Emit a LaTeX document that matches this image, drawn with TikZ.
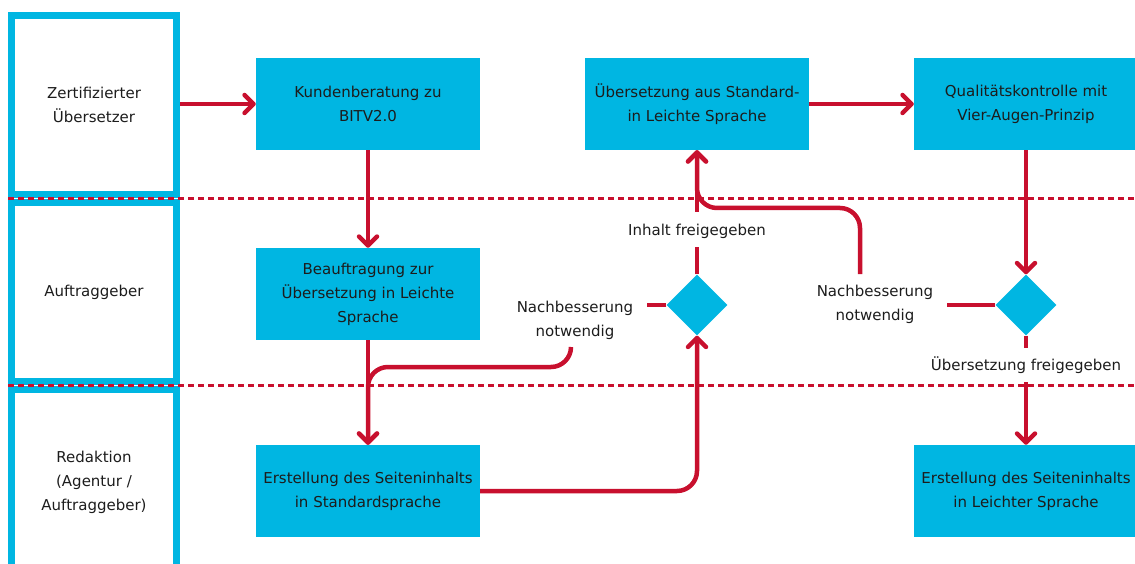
\documentclass[tikz,border=0pt]{standalone}
\usepackage{fontspec}
\setmainfont{DejaVu Sans}
\usetikzlibrary{arrows.meta,shapes.geometric}
\definecolor{boxcyan}{RGB}{0,182,226}
\definecolor{flowred}{RGB}{200,16,46}
\definecolor{ink}{RGB}{28,28,28}
\begin{document}
\begin{tikzpicture}[x=1pt,y=-1pt,
  every node/.style={font=\fontsize{15}{24}\selectfont, text=ink},
  proc/.style={fill=boxcyan, minimum width=224pt, minimum height=92pt, inner sep=0pt, align=center},
  lanebox/.style={draw=boxcyan, line width=7pt, minimum width=165pt, minimum height=179pt, align=center},
  lanetext/.style={align=center},
  dec/.style={diamond, fill=boxcyan, minimum width=61pt, minimum height=61pt, inner sep=0pt},
  lbl/.style={align=center, inner sep=0pt},
  flow/.style={draw=flowred, line width=4.5pt, rounded corners=20pt},
  tip/.style={-{Straight Barb[length=9pt,width=18pt,line join=round,line cap=round]}},
  sep/.style={draw=flowred, line width=2.5pt, dash pattern=on 6pt off 4pt}]
\useasboundingbox (0,0) rectangle (1135,564);

% swimlanes
\node[lanebox] (L1) at (94,105) {Zertifizierter\\Übersetzer};
\node[lanebox] (L2) at (94,292) {Auftraggeber};
\draw[boxcyan, line width=7pt] (11.5,580) -- (11.5,389.5) -- (176.5,389.5) -- (176.5,580);
\node[lanetext] (L3) at (94,482) {Redaktion\\(Agentur /\\Auftraggeber)};

% lane separators
\draw[sep] (8,198.5) -- (1135,198.5);
\draw[sep] (8,385.5) -- (1135,385.5);

% process steps
\node[proc] (K)  at (368,104)  {Kundenberatung zu\\BITV2.0};
\node[proc] (U)  at (697,104)  {Übersetzung aus Standard-\\in Leichte Sprache};
\node[proc] (Q)  at (1026,104) {Qualitätskontrolle mit\\Vier-Augen-Prinzip};
\node[proc] (B)  at (368,294)  {Beauftragung zur\\Übersetzung in Leichte\\Sprache};
\node[proc] (E1) at (368,491)  {Erstellung des Seiteninhalts\\in Standardsprache};
\node[proc] (E2) at (1026,491) {Erstellung des Seiteninhalts\\in Leichter Sprache};

% decisions
\node[dec] (D1) at (697,305) {};
\node[dec] (D2) at (1026,305) {};

% branch labels
\node[lbl] (nb1) at (575,320.5) {Nachbesserung\\notwendig};
\node[lbl] (if1) at (697,231) {Inhalt freigegeben};
\node[lbl] (nb2) at (875,304.5) {Nachbesserung\\notwendig};
\node[lbl] (uf)  at (1026,365) {Übersetzung freigegeben};

% free ends of the branch lines
\coordinate (d1w)  at (647,305);
\coordinate (nb1s) at (571,347);
\coordinate (m1)   at (368,367);
\coordinate (d1n)  at (697,247);
\coordinate (if1t) at (697,212);
\coordinate (d2w)  at (947,305);
\coordinate (nb2n) at (860,274);
\coordinate (m2)   at (697,208);
\coordinate (d2s)  at (1026,348);
\coordinate (uft)  at (1026,382);

% main flow
\draw[flow,tip] (L1.east |- K.west) -- (K.west);
\draw[flow,tip] (K.south) -- (B.north);
\draw[flow,tip] (B.south) -- (E1.north);
\draw[flow,tip] (E1.east) -| (D1.south);
\draw[flow,tip] (U.east) -- (Q.west);
\draw[flow,tip] (Q.south) -- (D2.north);

% first decision
\draw[flow] (D1.west) -- (d1w);
\draw[flow,tip] (nb1s) |- (m1) -- (E1.north);
\draw[flow] (D1.north) -- (d1n);
\draw[flow,tip] (if1t) -- (U.south);

% second decision
\draw[flow] (D2.west) -- (d2w);
\draw[flow,tip] (nb2n) |- (m2) -- (U.south);
\draw[flow] (D2.south) -- (d2s);
\draw[flow,tip] (uft) -- (E2.north);
\end{tikzpicture}
\end{document}
